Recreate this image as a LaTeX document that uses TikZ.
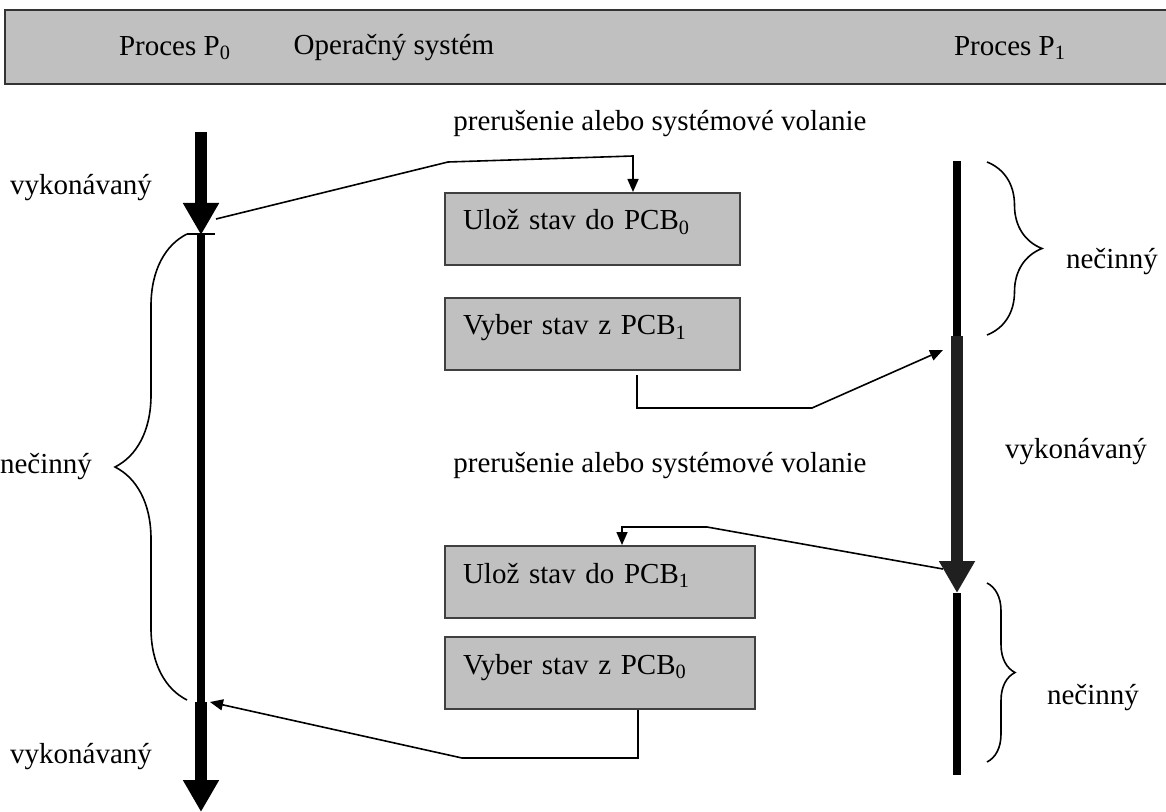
\documentclass[tikz,border=0pt]{standalone}
\usepackage{fontspec}
\setmainfont{Liberation Serif}
\usepackage{tikz}
\usetikzlibrary{arrows.meta,decorations.pathreplacing}
\definecolor{boxgray}{HTML}{C0C0C0}
\definecolor{lanedark}{HTML}{202020}
\tikzstyle{bigarrow} = [line width=6pt, -{Triangle[width=17pt,length=16pt]}]
\tikzstyle{lane} = [line width=4pt]
\tikzstyle{conn} = [line width=0.8pt, -{Triangle[width=5.5pt,length=6.5pt]}]
\tikzstyle{brc} = [line width=0.8pt, decorate]
\tikzstyle{osbox} = [draw=black!75, line width=1pt, fill=boxgray, anchor=north west,
    inner xsep=9pt, inner ysep=0pt, align=left, text height=18.5pt, text depth=17.5pt]
\tikzstyle{lbl} = [inner sep=0pt]

\begin{document}
\begin{tikzpicture}[x=0.5pt,y=-0.5pt,every node/.style={font=\fontsize{14.5}{17}\selectfont}]
    \useasboundingbox (0,0) rectangle (1166,812);
    \draw[draw=black!80, line width=1pt, fill=boxgray] (5,10) rectangle (1180,84);
    \node[lbl] (hp0) at (175,48) {Proces P\textsubscript{0}};
    \node[lbl] (hos) at (394,48) {Operačný systém};
    \node[lbl] (hp1) at (1010,48) {Proces P\textsubscript{1}};

    \node[osbox, text width=129.5pt] (ulozA) at (444,192) {Ulož stav do PCB\textsubscript{0}};
    \node[osbox, text width=129.5pt] (vyberA) at (444,297) {Vyber stav z PCB\textsubscript{1}};
    \node[osbox, text width=137pt] (ulozB) at (444,545) {Ulož stav do PCB\textsubscript{1}};
    \node[osbox, text width=137pt] (vyberB) at (444,636) {Vyber stav z PCB\textsubscript{0}};

    \node[lbl, anchor=west] (intA) at (453,124) {prerušenie alebo systémové volanie};
    \node[lbl, anchor=west] (intB) at (453,466) {prerušenie alebo systémové volanie};

    \node[lbl] (runA) at (81,188) {vykonávaný};
    \node[lbl] (idleA) at (46,467) {nečinný};
    \node[lbl] (runB) at (81,757) {vykonávaný};
    \node[lbl] (idleB) at (1112,262) {nečinný};
    \node[lbl] (runC) at (1076,452) {vykonávaný};
    \node[lbl] (idleC) at (1093,698) {nečinný};

    \coordinate (p0top) at (201,132);
    \coordinate (p0a) at (201,235);
    \coordinate (p0b) at (201,702);
    \coordinate (p0end) at (201,812);
    \draw[bigarrow] (p0top) -- (p0a);
    \draw[lane] (p0a) -- (p0b);
    \draw[bigarrow] (p0b) -- (p0end);

    \coordinate (p1top) at (957,161);
    \coordinate (p1a) at (957,336);
    \coordinate (p1b) at (957,593);
    \coordinate (p1end) at (957,775);
    \draw[lane] (p1top) -- (p1a);
    \draw[bigarrow, lanedark] (p1a) -- (p1b);
    \draw[lane] (p1b) -- (p1end);

    \draw[line width=0.8pt] (187,234) -- (215,234);
    \draw[brc, decoration={brace, amplitude=36pt}] (187,700) -- (187,234);
    \draw[brc, decoration={brace, amplitude=27.5pt}] (987,162) -- (987,335);
    \draw[brc, decoration={brace, amplitude=14pt}] (987,583) -- (987,762);

    \coordinate (p0out) at (216,219);
    \coordinate (p0in) at (210,702);
    \coordinate (p1in) at (943,350);
    \coordinate (p1out) at (943,569);
    \coordinate (c1) at (633,156);
    \coordinate (c2) at (637,408);
    \coordinate (c3) at (622,527);
    \coordinate (c4) at (638,758);
    \draw[conn] (p0out) -- (448,162) -- (c1) -- (c1 |- ulozA.north);
    \draw[conn] ([yshift=-2pt]vyberA.south -| c2) -- (c2) -- (812,408) -- (p1in);
    \draw[conn] (p1out) -- (707,527) -- (c3) -- (c3 |- ulozB.north);
    \draw[conn] (vyberB.south -| c4) -- (c4) -- (462,758) -- (p0in);
\end{tikzpicture}
\end{document}
